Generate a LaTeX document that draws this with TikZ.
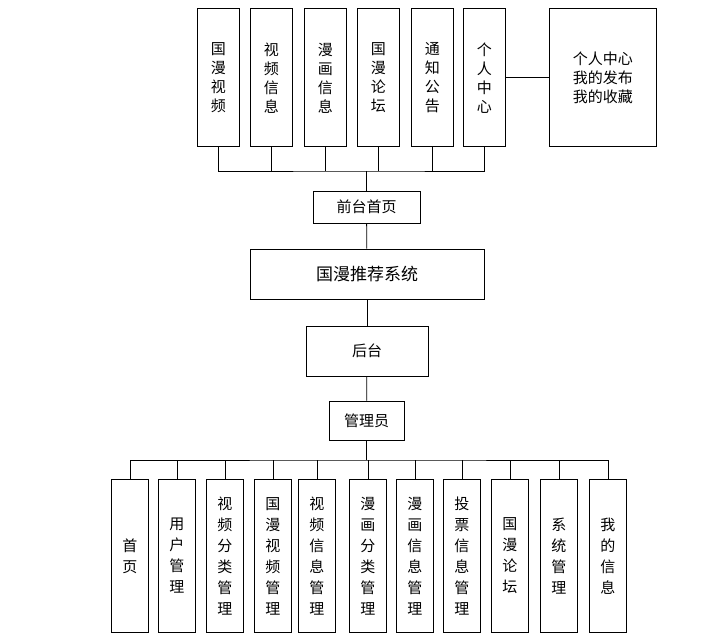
\documentclass[tikz,border=0pt]{standalone}
\usepackage{fontspec}
\newfontfamily\cjk{Noto Sans CJK SC}
\usetikzlibrary{positioning}

\tikzset{
	box/.style={draw, thick, inner sep=0pt, font=\cjk\fontsize{15}{19}\selectfont, align=center},
	wire/.style={thick}
}

\begin{document}
\begin{tikzpicture}[x=1pt, y=-1pt]
				\useasboundingbox (0,0) rectangle (727,640);
				% top row
				\foreach \n/\l/\t in {1/197/国\\漫\\视\\频, 2/250/视\\频\\信\\息, 3/304/漫\\画\\信\\息, 4/357/国\\漫\\论\\坛, 5/411/通\\知\\公\\告, 6/463/个\\人\\中\\心}
					\node[box, minimum width=42pt, minimum height=138pt, anchor=north west, text depth=0pt] (top\n) at (\l,8) {\t};
				\node[box, minimum width=107pt, minimum height=138pt, anchor=north west] (center) at (549,8) {个人中心\\我的发布\\我的收藏};
				\draw[wire] (top6) -- (center);
				
				\node[box, minimum width=107pt, minimum height=32pt] (front) at (366.5,207) {前台首页};
				\node[box, minimum width=234pt, minimum height=50pt, font=\cjk\fontsize{17}{20}\selectfont] (sys) at (367,274) {国漫推荐系统};
				\node[box, minimum width=122pt, minimum height=50pt] (back) at (367,351) {后台};
				\node[box, minimum width=75pt, minimum height=39pt] (admin) at (366.5,420.5) {管理员};
				
				\coordinate (tbus) at (366.5,171);
				\draw[wire] (top1.south) |- (tbus) -| (top6.south);
				\foreach \n in {2,...,5}
					\draw[wire] (top\n.south) -- (top\n.south |- tbus);
				\draw[wire] (tbus) -- (front);
				\draw[wire] (front) -- (sys);
				\draw[wire] (sys) -- (back);
				\draw[wire] (back) -- (admin);
				
				% bottom row
				\foreach \n/\l/\t in {1/111/首\\页, 2/158/用\\户\\管\\理, 3/206/视\\频\\分\\类\\管\\理, 4/254/国\\漫\\视\\频\\管\\理, 5/298/视\\频\\信\\息\\管\\理, 6/349/漫\\画\\分\\类\\管\\理, 7/396/漫\\画\\信\\息\\管\\理, 8/443/投\\票\\信\\息\\管\\理, 9/491/国\\漫\\论\\坛, 10/540/系\\统\\管\\理, 11/589/我\\的\\信\\息}
					\node[box, minimum width=37pt, minimum height=153pt, anchor=north west, font=\cjk\fontsize{15}{21}\selectfont] (bot\n) at (\l,479) {\t};
				\coordinate (bbus) at (366.5,460);
				\draw[wire] (admin) -- (bbus);
				\draw[wire] (bot1.north) |- (bbus) -| (bot11.north);
				\foreach \n in {2,...,10}
					\draw[wire] (bot\n.north) -- (bot\n.north |- bbus);
			\end{tikzpicture}
\end{document}
